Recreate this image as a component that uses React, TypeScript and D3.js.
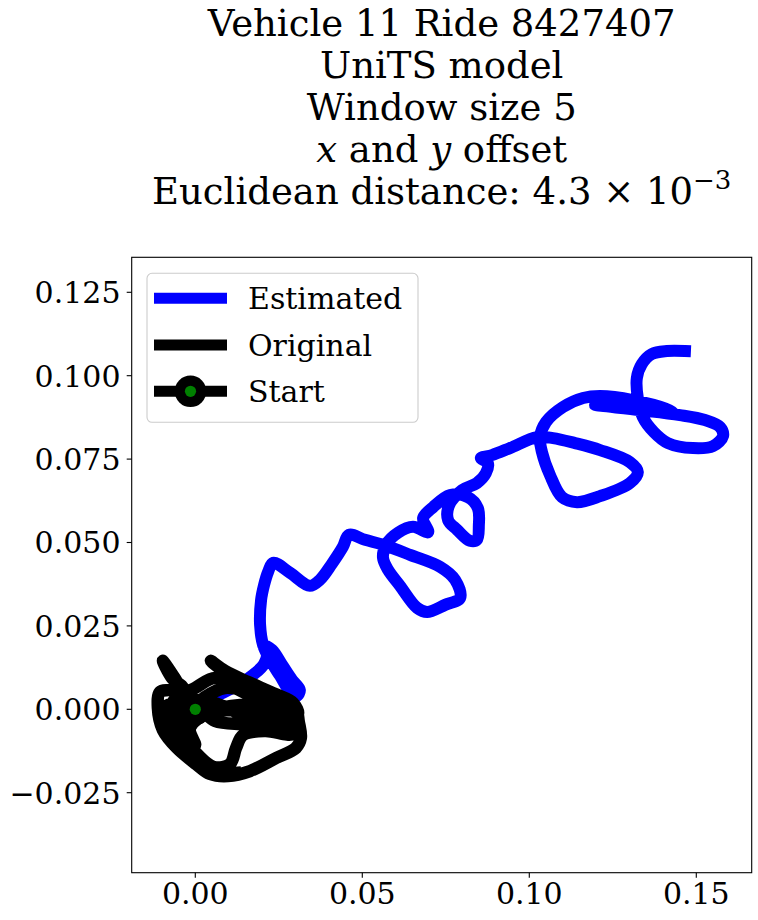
import * as d3 from 'd3';

// ---- data ----
const estimatedX = [
  0, 0.0059, 0.0134, 0.0173, 0.0206, 0.0215, 0.0203, 0.0230, 0.0260, 0.0290,
  0.0313, 0.0304, 0.0284, 0.0254, 0.0224, 0.0203, 0.0194, 0.0197, 0.0206, 0.0218,
  0.0233, 0.0284, 0.0343, 0.0373, 0.0409, 0.0442, 0.0460, 0.0508, 0.0562, 0.0643,
  0.0733, 0.0778, 0.0793, 0.0748, 0.0694, 0.0664, 0.0613, 0.0577, 0.0562, 0.0571,
  0.0607, 0.0652, 0.0697, 0.0682, 0.0712, 0.0763, 0.0816, 0.0846, 0.0849, 0.0843,
  0.0822, 0.0784, 0.0757, 0.0760, 0.0799, 0.0843, 0.0870, 0.0876, 0.0855, 0.0888,
  0.0942, 0.1023, 0.1071, 0.1137, 0.1212, 0.1301, 0.1325, 0.1301, 0.1212, 0.1143,
  0.1098, 0.1062, 0.1038, 0.1032, 0.1050, 0.1101, 0.1161, 0.1212, 0.1310, 0.1430,
  0.1197, 0.1331, 0.1451, 0.1526, 0.1571, 0.1580, 0.1550, 0.1490, 0.1415, 0.1373,
  0.1340, 0.1325, 0.1322, 0.1337, 0.1367, 0.1412, 0.1466,
];
const estimatedY = [
  0, 0.0037, 0.0076, 0.0103, 0.0136, 0.0172, 0.0193, 0.0178, 0.0133, 0.0088,
  0.0058, 0.0040, 0.0052, 0.0100, 0.0148, 0.0193, 0.0253, 0.0328, 0.0373, 0.0412,
  0.0439, 0.0409, 0.0370, 0.0388, 0.0436, 0.0487, 0.0523, 0.0508, 0.0493, 0.0463,
  0.0427, 0.0388, 0.0334, 0.0313, 0.0292, 0.0304, 0.0370, 0.0418, 0.0454, 0.0493,
  0.0529, 0.0547, 0.0531, 0.0573, 0.0606, 0.0642, 0.0636, 0.0603, 0.0552, 0.0508,
  0.0505, 0.0538, 0.0567, 0.0612, 0.0657, 0.0678, 0.0708, 0.0738, 0.0753, 0.0762,
  0.0783, 0.0816, 0.0813, 0.0798, 0.0777, 0.0741, 0.0711, 0.0678, 0.0639, 0.0621,
  0.0636, 0.0702, 0.0771, 0.0816, 0.0861, 0.0906, 0.0933, 0.0939, 0.0927, 0.0894,
  0.0912, 0.0897, 0.0882, 0.0867, 0.0846, 0.0819, 0.0789, 0.0783, 0.0798, 0.0831,
  0.0876, 0.0933, 0.0993, 0.1035, 0.1065, 0.1074, 0.1074,
];
const originalX = [
  0, -0.0031, -0.0064, -0.0097, -0.0070, -0.0037, -0.0076, -0.0106, -0.0112, -0.0097,
  -0.0055, 0.0002, 0.0044, 0.0098, 0.0164, 0.0242, 0.0301, 0.0316, 0.0310, 0.0301,
  0.0269, 0.0200, 0.0134, 0.0080, 0.0047, 0.0089, 0.0158, 0.0239, 0.0293, 0.0307,
  0.0254, 0.0179, 0.0104, 0.0029, -0.0016, -0.0022, 0.0014, 0.0056, 0.0104, 0.0122,
  0.0143, 0.0209, 0.0293, 0.0304, 0.0224, 0.0134, 0.0059, 0.0014, -0.0031, -0.0061,
  -0.0052, -0.0016, -0.0046, -0.0076, -0.0058, -0.0001, 0.0059, 0.0119, 0.0194, 0.0269,
  0.0313, 0.0239, 0.0164, 0.0074, 0.0014, -0.0031, -0.0052, -0.0040, -0.0001, -0.0016,
  0.0044, 0.0134, 0.0224, 0.0299, 0.0254, 0.0164, 0.0089, 0.0029, -0.0022, -0.0082,
  -0.0088, -0.0046, -0.0001, 0.0050, 0.0119,
];
const originalY = [
  0, 0.0043, 0.0097, 0.0145, 0.0094, 0.0064, 0.0058, 0.0052, 0.0004, -0.0062,
  -0.0116, -0.0164, -0.0194, -0.0200, -0.0185, -0.0146, -0.0116, -0.0086, -0.0038, 0.0004,
  0.0028, 0.0058, 0.0088, 0.0118, 0.0145, 0.0115, 0.0082, 0.0046, 0.0019, -0.0014,
  -0.0020, -0.0008, -0.0002, -0.0014, -0.0038, -0.0092, -0.0143, -0.0173, -0.0164, -0.0116,
  -0.0077, -0.0065, -0.0074, -0.0044, -0.0044, -0.0044, -0.0035, -0.0002, -0.0008, -0.0038,
  -0.0077, -0.0122, -0.0077, -0.0014, 0.0034, 0.0064, 0.0094, 0.0064, 0.0028, 0.0001,
  -0.0056, -0.0038, -0.0026, 0.0013, 0.0028, 0.0013, -0.0032, -0.0077, -0.0107, -0.0056,
  -0.0008, 0.0013, 0.0004, -0.0026, 0.0028, 0.0052, 0.0064, 0.0037, -0.0008, 0.0013,
  -0.0047, -0.0107, -0.0146, -0.0188, -0.0191,
];
const startPoint = [0, 0];

const xTicks = [0, 0.05, 0.1, 0.15];
const yTicks = [-0.025, 0, 0.025, 0.05, 0.075, 0.1, 0.125];
const xDomain = [-0.01904, 0.16659];
const yDomain = [-0.04898, 0.13549];

const legendLabels = ['Estimated', 'Original', 'Start'];

const FONT = '"DejaVu Serif", serif';

export default function App() {
  const width = 758;
  const height = 920;
  const plot = { left: 131.7, right: 751.7, top: 257.3, bottom: 872.7 };

  const x = d3.scaleLinear().domain(xDomain).range([plot.left, plot.right]);
  const y = d3.scaleLinear().domain(yDomain).range([plot.bottom, plot.top]);

  const line = d3
    .line<[number, number]>()
    .x((d) => x(d[0]))
    .y((d) => y(d[1]))
    .curve(d3.curveCatmullRom.alpha(0.5));

  const estimated = estimatedX.map((v, i) => [v, estimatedY[i]] as [number, number]);
  const original = originalX.map((v, i) => [v, originalY[i]] as [number, number]);

  const fmtX = d3.format('.2f');
  const fmtY = d3.format('.3f');

  const titleX = (plot.left + plot.right) / 2;

  // legend geometry
  const lg = { x: 147, y: 273.3, w: 271, h: 149 };
  const rowY = [298.3, 345, 391.3];

  return (
    <svg
      width={width}
      height={height}
      style={{ position: 'absolute', left: 0, top: 0, background: '#fff' }}
      fontFamily={FONT}
    >
      <rect x={0} y={0} width={width} height={height} fill="#fff" />

      {/* title */}
      <g fontSize={37} textAnchor="middle" fill="#000">
        <text x={titleX} y={36}>Vehicle 11 Ride 8427407</text>
        <text x={titleX} y={78}>UniTS model</text>
        <text x={titleX} y={120}>Window size 5</text>
        <text x={titleX} y={162}>
          <tspan fontStyle="italic">x</tspan> and <tspan fontStyle="italic">y</tspan> offset
        </text>
        <text x={titleX} y={204}>
          Euclidean distance: 4.3 × 10
          <tspan fontSize={26} dy={-15}>−3</tspan>
        </text>
      </g>

      <defs>
        <clipPath id="plotClip">
          <rect x={plot.left} y={plot.top} width={plot.right - plot.left} height={plot.bottom - plot.top} />
        </clipPath>
      </defs>

      {/* lines */}
      <g clipPath="url(#plotClip)" fill="none" strokeLinejoin="round" strokeLinecap="square">
        <path d={line(estimated) ?? ''} stroke="#0000ff" strokeWidth={12} />
        <path d={line(original) ?? ''} stroke="#000" strokeWidth={12.5} />
        <circle cx={x(startPoint[0])} cy={y(startPoint[1])} r={15.8} fill="#000" />
        <circle cx={x(startPoint[0])} cy={y(startPoint[1])} r={5.6} fill="#008000" />
      </g>

      {/* frame */}
      <rect
        x={plot.left}
        y={plot.top}
        width={plot.right - plot.left}
        height={plot.bottom - plot.top}
        fill="none"
        stroke="#000"
        strokeWidth={1.1}
      />

      {/* x axis */}
      <g fontSize={30} textAnchor="middle">
        {xTicks.map((t) => (
          <g key={t}>
            <line x1={x(t)} x2={x(t)} y1={plot.bottom} y2={plot.bottom + 5} stroke="#000" strokeWidth={1.1} />
            <text x={x(t)} y={904}>{fmtX(t)}</text>
          </g>
        ))}
      </g>

      {/* y axis */}
      <g fontSize={30} textAnchor="end">
        {yTicks.map((t) => (
          <g key={t}>
            <line x1={plot.left - 5} x2={plot.left} y1={y(t)} y2={y(t)} stroke="#000" strokeWidth={1.1} />
            <text x={120.5} y={y(t) + 11}>{fmtY(t)}</text>
          </g>
        ))}
      </g>

      {/* legend */}
      <g>
        <rect
          x={lg.x}
          y={lg.y}
          width={lg.w}
          height={lg.h}
          rx={5}
          fill="#fff"
          fillOpacity={0.8}
          stroke="#cccccc"
          strokeWidth={1.1}
        />
        <line x1={154} x2={227} y1={rowY[0]} y2={rowY[0]} stroke="#0000ff" strokeWidth={11} />
        <line x1={154} x2={227} y1={rowY[1]} y2={rowY[1]} stroke="#000" strokeWidth={11} />
        <line x1={154} x2={227} y1={rowY[2]} y2={rowY[2]} stroke="#000" strokeWidth={11} />
        <circle cx={190.5} cy={rowY[2]} r={15.8} fill="#000" />
        <circle cx={190.5} cy={rowY[2]} r={5.6} fill="#008000" />
        <g fontSize={30}>
          {legendLabels.map((l, i) => (
            <text key={l} x={248} y={rowY[i] + 11}>{l}</text>
          ))}
        </g>
      </g>
    </svg>
  );
}
